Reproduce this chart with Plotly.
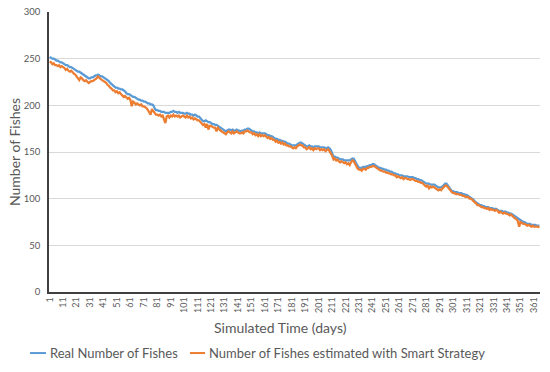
import plotly.graph_objects as go

days = list(range(1, 366))

real_fishes = [
    252, 251, 250, 250, 249, 248, 248, 247, 246, 246,
    245, 244, 243, 243, 242, 241, 241, 240, 239, 238,
    237, 236, 236, 235, 234, 233, 232, 231, 230, 229,
    229, 230, 230, 231, 232, 232, 233, 232, 231, 231,
    230, 229, 228, 227, 226, 224, 223, 221, 220, 219,
    219, 218, 218, 217, 217, 216, 215, 213, 212, 212,
    211, 210, 209, 209, 208, 207, 206, 206, 205, 205,
    204, 204, 203, 202, 202, 201, 201, 200, 197, 195,
    195, 194, 194, 193, 193, 193, 192, 192, 192, 192,
    193, 193, 194, 193, 193, 192, 193, 192, 192, 192,
    191, 191, 192, 191, 191, 190, 190, 189, 190, 189,
    188, 188, 186, 185, 183, 183, 184, 183, 182, 182,
    181, 180, 180, 179, 179, 178, 177, 176, 175, 174,
    173, 172, 173, 174, 174, 173, 174, 173, 173, 174,
    173, 173, 172, 173, 173, 174, 174, 175, 175, 174,
    173, 172, 172, 171, 171, 170, 171, 170, 170, 170,
    170, 169, 168, 168, 167, 167, 166, 165, 164, 164,
    163, 163, 162, 162, 161, 161, 160, 159, 159, 158,
    157, 157, 157, 157, 158, 159, 160, 160, 159, 158,
    157, 156, 156, 157, 156, 156, 155, 156, 156, 156,
    156, 155, 155, 155, 155, 154, 154, 155, 154, 152,
    148, 145, 145, 144, 144, 143, 142, 142, 142, 141,
    141, 141, 141, 141, 142, 143, 143, 140, 137, 135,
    133, 133, 133, 134, 134, 134, 135, 135, 136, 136,
    137, 137, 136, 135, 134, 133, 133, 132, 132, 131,
    131, 130, 130, 129, 129, 128, 127, 127, 126, 126,
    125, 125, 125, 124, 124, 124, 124, 123, 123, 123,
    123, 122, 122, 121, 121, 120, 120, 119, 118, 117,
    116, 116, 116, 115, 115, 115, 115, 114, 113, 112,
    112, 112, 113, 115, 116, 116, 114, 112, 110, 108,
    108, 107, 107, 107, 106, 106, 106, 105, 105, 104,
    104, 103, 102, 101, 100, 99, 97, 96, 95, 94,
    93, 93, 92, 92, 91, 91, 91, 90, 90, 90,
    89, 89, 89, 88, 87, 87, 87, 86, 86, 86,
    85, 85, 84, 84, 83, 82, 81, 80, 79, 78,
    77, 76, 75, 75, 74, 73, 73, 73, 72, 72,
    72, 72, 71, 71, 71,
]

smart_estimate = [
    247, 246, 244, 245, 243, 243, 242, 243, 241, 242,
    241, 240, 238, 239, 237, 236, 237, 235, 234, 233,
    231, 228, 227, 230, 229, 227, 226, 227, 225, 224,
    225, 226, 226, 227, 228, 229, 231, 229, 228, 227,
    226, 225, 224, 222, 221, 219, 218, 216, 216, 214,
    215, 213, 214, 212, 211, 209, 210, 208, 207, 208,
    206, 199, 204, 203, 201, 202, 201, 200, 201, 199,
    199, 198, 197, 195, 192, 190, 196, 194, 191, 190,
    190, 189, 190, 188, 189, 184, 181, 188, 189, 187,
    189, 188, 190, 188, 189, 188, 189, 187, 188, 189,
    188, 187, 189, 187, 188, 186, 187, 185, 186, 185,
    184, 184, 182, 181, 179, 180, 176, 180, 174, 178,
    178, 177, 176, 176, 172, 176, 174, 173, 172, 171,
    170, 169, 171, 172, 171, 170, 172, 170, 171, 172,
    171, 170, 170, 171, 170, 172, 172, 173, 172, 171,
    171, 169, 170, 168, 169, 167, 169, 167, 168, 167,
    168, 166, 165, 166, 164, 165, 163, 163, 161, 162,
    160, 161, 159, 160, 158, 159, 157, 157, 156, 156,
    155, 154, 155, 154, 156, 157, 158, 157, 157, 155,
    155, 153, 154, 155, 153, 154, 152, 154, 153, 154,
    154, 152, 153, 152, 153, 151, 152, 153, 151, 149,
    146, 142, 143, 141, 142, 140, 139, 140, 139, 138,
    139, 137, 138, 136, 139, 141, 140, 137, 134, 132,
    131, 131, 130, 132, 132, 131, 133, 133, 134, 134,
    135, 135, 134, 133, 132, 131, 130, 130, 129, 129,
    128, 128, 127, 127, 126, 126, 125, 125, 123, 124,
    123, 122, 123, 121, 122, 122, 121, 121, 120, 121,
    121, 120, 119, 119, 118, 118, 117, 117, 115, 114,
    113, 114, 111, 113, 112, 113, 112, 111, 110, 109,
    110, 109, 111, 113, 114, 114, 112, 110, 108, 107,
    106, 106, 105, 105, 105, 104, 104, 103, 103, 102,
    102, 102, 100, 100, 99, 97, 96, 95, 93, 93,
    92, 91, 91, 90, 90, 89, 90, 88, 89, 88,
    88, 87, 88, 87, 85, 86, 85, 84, 85, 84,
    84, 83, 82, 83, 81, 80, 79, 78, 76, 70,
    75, 74, 73, 73, 72, 71, 72, 71, 70, 71,
    70, 70, 70, 70, 69,
]

x_tick_vals = list(range(1, 366, 10))
x_tick_text = [str(v) for v in x_tick_vals]
y_tick_vals = [0, 50, 100, 150, 200, 250, 300]

series_names = ["Real Number of Fishes", "Number of Fishes estimated with Smart Strategy"]
series_colors = ["#5B9BD5", "#ED7D31"]

FONT = "Lato"
GREY = "#595959"

fig = go.Figure()
fig.add_trace(go.Scatter(
    x=days, y=real_fishes, mode="lines", name=series_names[0],
    line=dict(color=series_colors[0], width=2.25),
))
fig.add_trace(go.Scatter(
    x=days, y=smart_estimate, mode="lines", name=series_names[1],
    line=dict(color=series_colors[1], width=2.25),
))

fig.update_layout(
    width=550, height=372,
    margin=dict(l=49, r=10, t=12, b=80, autoexpand=False),
    paper_bgcolor="white", plot_bgcolor="white",
    font=dict(family=FONT, color=GREY),
    showlegend=False,
    xaxis=dict(
        range=[0.5, 365.5], automargin=False,
        tickmode="array", tickvals=x_tick_vals, ticktext=x_tick_text,
        tickangle=-90, tickfont=dict(size=9, color=GREY),
        showgrid=False, zeroline=False,
        showline=True, linecolor="#404040", linewidth=1.5,
        ticks="", ticklabeloverflow="allow",
    ),
    yaxis=dict(
        range=[0, 300], automargin=False,
        tickmode="array", tickvals=y_tick_vals,
        tickfont=dict(size=9.5, color=GREY),
        showgrid=True, gridcolor="#D9D9D9", gridwidth=1,
        zeroline=False,
        showline=True, linecolor="#404040", linewidth=1.5,
        ticks="", ticklabelstandoff=5, ticklabeloverflow="allow",
    ),
)

# axis titles
fig.add_annotation(text="Simulated Time (days)", xref="paper", yref="paper",
                   x=0.4705, y=-0.125, xanchor="center", yanchor="middle",
                   showarrow=False, font=dict(family=FONT, size=14, color=GREY))
fig.add_annotation(text="Number of Fishes", xref="paper", yref="paper",
                   x=-0.0712, y=0.5, xanchor="center", yanchor="middle", textangle=-90,
                   showarrow=False, font=dict(family=FONT, size=14, color=GREY))

# legend (Excel style: short line keys)
legend_y = -0.218
legend_keys = [(-0.0387, -0.0061, -0.0020), (0.2872, 0.3177, 0.3218)]
for (x0, x1, xt), name, color in zip(legend_keys, series_names, series_colors):
    fig.add_shape(type="line", xref="paper", yref="paper", x0=x0, x1=x1,
                  y0=legend_y, y1=legend_y, line=dict(color=color, width=2))
    fig.add_annotation(text=name, xref="paper", yref="paper", x=xt, y=legend_y,
                       xanchor="left", yanchor="middle", showarrow=False,
                       font=dict(family=FONT, size=13, color=GREY))

fig.write_html("out.html", config={"displayModeBar": False},
               post_script="document.body.style.margin='0';")
